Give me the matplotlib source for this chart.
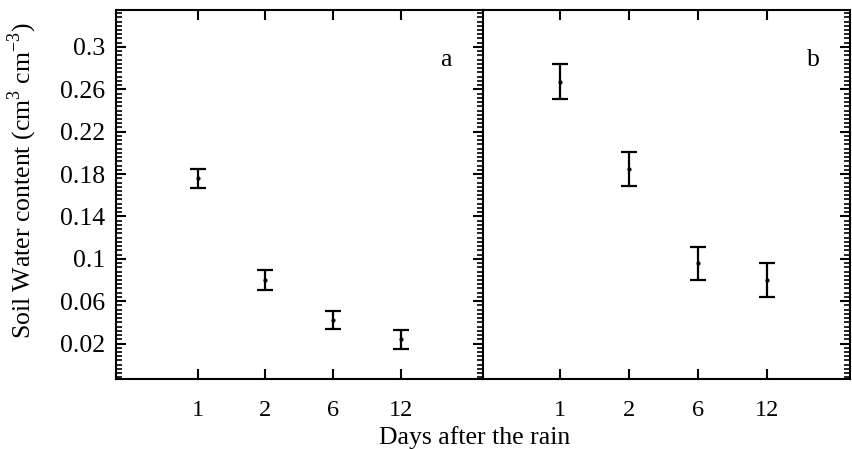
import matplotlib
matplotlib.use("Agg")
import matplotlib.pyplot as plt
from matplotlib.ticker import MultipleLocator, FixedLocator
import numpy as np

plt.rcParams['font.family'] = ['Liberation Serif', 'DejaVu Serif']
plt.rcParams['mathtext.fontset'] = 'custom'
plt.rcParams['mathtext.rm'] = 'Liberation Serif'

days = ['1', '2', '6', '12']
mean_a = [0.176, 0.080, 0.042, 0.024]
err_a = [0.009, 0.009, 0.0087, 0.009]
mean_b = [0.267, 0.185, 0.096, 0.080]
err_b = [0.0165, 0.016, 0.0156, 0.0165]
yticks = [0.02, 0.06, 0.1, 0.14, 0.18, 0.22, 0.26, 0.3]
ytick_labels = ['0.02', '0.06', '0.1', '0.14', '0.18', '0.22', '0.26', '0.3']

FS = 18.5
FSX = 17.5
fig = plt.figure(figsize=(8.53, 4.49), dpi=100)
ax1 = fig.add_axes([0.136, 0.157, 0.430, 0.821])
ax2 = fig.add_axes([0.566, 0.157, 0.430, 0.821])

pos = np.arange(1, len(days) + 1)
for ax, m, e, lab, xl in [(ax1, mean_a, err_a, 'a', (-0.2, 5.2)),
                          (ax2, mean_b, err_b, 'b', (-0.11, 5.19))]:
    ax.errorbar(pos, m, yerr=e, fmt='.', color='black', markersize=4,
                elinewidth=1.6, capsize=5.6, capthick=1.6)
    ax.set_xlim(*xl)
    ax.set_ylim(-0.013, 0.335)
    ax.set_xticks(pos)
    ax.set_xticklabels(days, fontsize=FSX)
    ax.yaxis.set_major_locator(FixedLocator(yticks))
    ax.yaxis.set_minor_locator(MultipleLocator(0.004))
    for s in ax.spines.values():
        s.set_linewidth(1.5)
    ax.tick_params(axis='x', which='major', direction='in', length=7, width=1.5,
                   top=True, bottom=True, pad=15.5)
    ax.tick_params(axis='x', which='minor', bottom=False, top=False)
    ax.text(0.9, 0.865, lab, transform=ax.transAxes, fontsize=FS,
            ha='center', va='center')

ax1.set_yticklabels(ytick_labels, fontsize=FS)
ax1.tick_params(axis='y', which='major', direction='in', length=7, width=1.5,
                left=True, right=True, pad=8)
ax1.tick_params(axis='y', which='minor', direction='in', length=4, width=1.2,
                left=True, right=True)
ax2.tick_params(axis='y', which='major', direction='in', length=7, width=1.5,
                left=False, right=True, labelleft=False)
ax2.tick_params(axis='y', which='minor', direction='in', length=4, width=1.2,
                left=False, right=True)

fig.text(22 / 853, 1 - 180 / 449, 'Soil Water content (cm$^3$ cm$^{-3}$)',
         fontsize=FS, rotation=90, ha='center', va='center')
fig.text(0.556, 1 - 444 / 449, 'Days after the rain', fontsize=FS,
         ha='center', va='baseline')

fig.savefig('out.png', dpi=100)
